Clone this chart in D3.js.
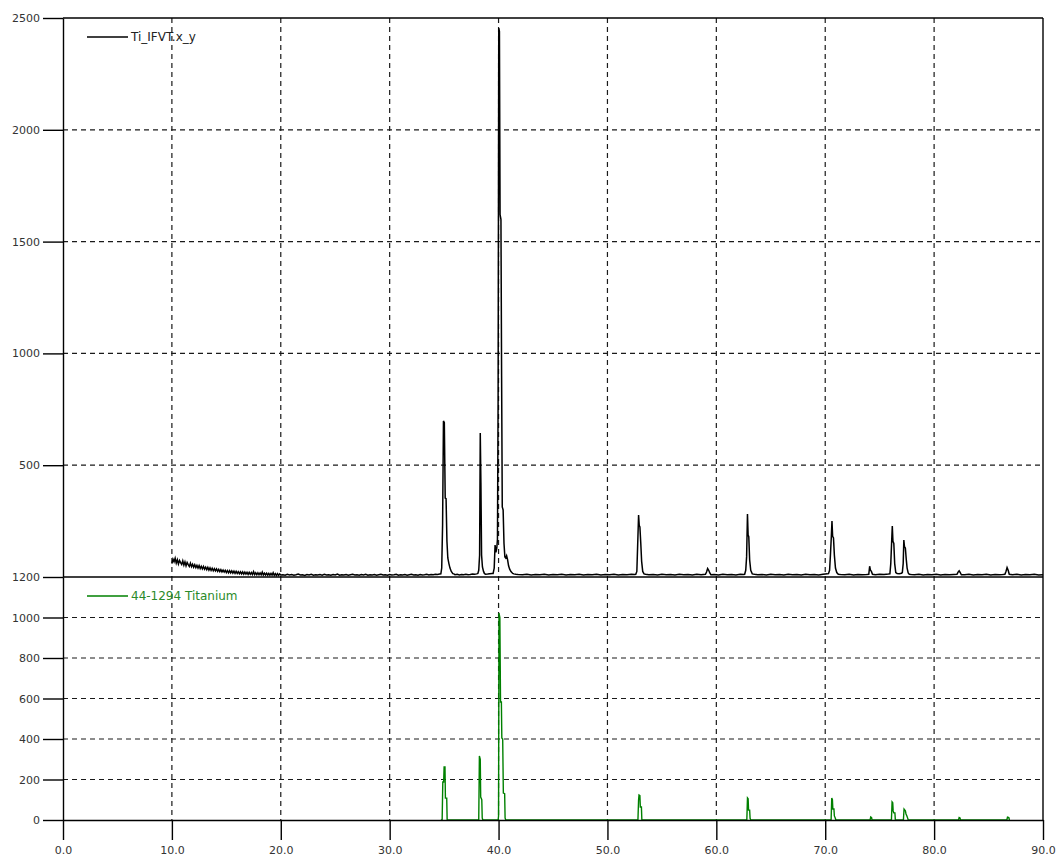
<!DOCTYPE html>
<html>
<head>
<meta charset="utf-8">
<script src="https://cdn.jsdelivr.net/npm/d3@7"></script>
<style>
  body { margin: 0; background: #fff; }
  svg { display: block; }
  text { font-family: "DejaVu Sans", sans-serif; }
</style>
</head>
<body>
<div id="chart"></div>
<script>
// measured pattern Ti_IFVT.x_y : [2theta, counts]
const obsBackground = [
  [10.0, 60], [10.1, 80], [10.2, 68], [10.3, 84], [10.4, 62], [10.5, 77], [10.6, 58], [10.7, 74], [10.8, 64], [10.9, 56],
  [11.0, 72], [11.1, 53], [11.2, 68], [11.3, 50], [11.4, 65], [11.5, 55], [11.6, 47], [11.7, 62], [11.8, 46], [11.9, 57],
  [12.0, 44], [12.1, 55], [12.2, 42], [12.3, 52], [12.4, 40], [12.5, 51], [12.6, 38], [12.7, 48], [12.8, 36], [12.9, 47],
  [13.0, 35], [13.1, 44], [13.2, 33], [13.3, 43], [13.4, 31], [13.5, 41], [13.6, 29], [13.7, 39], [13.8, 28], [13.9, 37],
  [14.0, 27], [14.1, 36], [14.2, 25], [14.3, 34], [14.4, 24], [14.5, 33], [14.6, 23], [14.7, 31], [14.8, 22], [14.9, 30],
  [15.0, 20], [15.1, 29], [15.2, 19], [15.3, 28], [15.4, 18], [15.5, 27], [15.6, 17], [15.7, 26], [15.8, 16], [15.9, 25],
  [16.0, 16], [16.1, 24], [16.2, 15], [16.3, 23], [16.4, 14], [16.5, 23], [16.6, 13], [16.7, 22], [16.8, 13], [16.9, 21],
  [17.0, 12], [17.1, 21], [17.2, 12], [17.3, 20], [17.4, 11], [17.5, 24], [17.6, 11], [17.7, 19], [17.8, 10], [17.9, 19],
  [18.0, 10], [18.1, 18], [18.2, 10], [18.3, 22], [18.4, 9], [18.5, 17], [18.6, 9], [18.7, 17], [18.8, 8], [18.9, 16],
  [19.0, 8], [19.1, 16], [19.2, 8], [19.3, 19], [19.4, 7], [19.5, 15], [19.6, 7], [19.7, 15], [19.8, 7], [19.9, 14],
  [20.0, 9], [20.2, 10], [20.4, 8], [20.6, 12], [20.8, 9], [21.0, 11], [21.2, 8], [21.4, 10], [21.6, 13], [21.8, 9],
  [22.0, 10], [22.2, 7], [22.4, 11], [22.6, 9], [22.8, 12], [23.0, 8], [23.2, 10], [23.4, 9], [23.6, 11], [23.8, 8],
  [24.0, 12], [24.2, 9], [24.4, 10], [24.6, 8], [24.8, 11], [25.0, 9], [25.2, 13], [25.4, 8], [25.6, 10], [25.8, 9],
  [26.0, 11], [26.2, 8], [26.4, 10], [26.6, 12], [26.8, 9], [27.0, 10], [27.2, 8], [27.4, 11], [27.6, 9], [27.8, 12],
  [28.0, 8], [28.2, 10], [28.4, 9], [28.6, 11], [28.8, 8], [29.0, 10], [29.2, 12], [29.4, 9], [29.6, 10], [29.8, 8],
  [30.0, 11], [30.2, 9], [30.4, 10], [30.6, 12], [30.8, 8], [31.0, 10], [31.2, 9], [31.4, 11], [31.6, 8], [31.8, 10],
  [32.0, 12], [32.2, 9], [32.4, 10], [32.6, 8], [32.8, 11], [33.0, 9], [33.2, 10], [33.4, 12], [33.6, 9], [33.8, 11],
  [34.0, 10], [34.2, 12], [34.4, 11], [34.6, 13],
  [35.9, 14], [36.0, 10], [36.2, 12], [36.4, 9], [36.6, 11], [36.8, 10], [37.0, 12], [37.2, 10], [37.4, 11],
  [37.6, 13], [37.8, 12], [38.0, 14],
  [38.8, 12], [39.0, 13], [39.2, 15], [39.4, 16],
  [41.4, 14], [41.6, 12], [41.8, 11], [42.2, 10], [42.6, 12], [43.0, 9], [43.4, 11], [43.8, 10], [44.2, 12], [44.6, 9],
  [45.0, 11], [45.4, 10], [45.8, 12], [46.2, 9], [46.6, 11], [47.0, 10], [47.4, 12], [47.8, 9], [48.2, 11], [48.6, 10],
  [49.0, 12], [49.4, 9], [49.8, 11], [50.2, 10], [50.6, 12], [51.0, 9], [51.4, 11], [51.8, 10], [52.2, 12], [52.5, 11],
  [53.5, 12], [53.8, 10], [54.2, 11], [54.6, 9], [55.0, 12], [55.4, 10], [55.8, 11], [56.2, 9], [56.6, 12], [57.0, 10],
  [57.4, 11], [57.8, 9], [58.2, 12], [58.6, 10],
  [59.8, 11], [60.2, 9], [60.6, 12], [61.0, 10], [61.4, 11], [61.8, 9], [62.2, 12], [62.5, 11],
  [63.5, 12], [63.8, 10], [64.2, 11], [64.6, 9], [65.0, 12], [65.4, 10], [65.8, 11], [66.2, 9], [66.6, 12], [67.0, 10],
  [67.4, 11], [67.8, 9], [68.2, 12], [68.6, 10], [69.0, 11], [69.4, 9], [69.8, 12], [70.2, 14],
  [71.4, 11], [71.8, 10], [72.2, 12], [72.6, 9], [73.0, 11], [73.4, 10], [73.8, 11],
  [74.6, 10], [75.0, 12], [75.4, 11], [75.8, 13],
  [76.6, 16], [76.8, 15], [77.0, 17],
  [77.9, 11], [78.2, 10], [78.6, 12], [79.0, 9], [79.4, 11], [79.8, 10], [80.2, 12], [80.6, 9], [81.0, 11], [81.4, 10],
  [81.8, 11], [82.8, 10], [83.2, 12], [83.6, 9], [84.0, 11], [84.4, 10], [84.8, 12], [85.2, 9], [85.6, 11], [86.0, 10],
  [86.3, 11], [87.2, 10], [87.6, 12], [88.0, 9], [88.4, 11], [88.8, 10], [89.2, 12], [89.6, 9], [90.0, 10]
];

const obsPeaks = [
  // 35.0
  [34.70, 14], [34.78, 40], [34.86, 232], [34.94, 698], [35.02, 690], [35.10, 353], [35.18, 350],
  [35.26, 160], [35.34, 85], [35.44, 60], [35.54, 40], [35.66, 25], [35.80, 15],
  // 38.4
  [38.10, 16], [38.18, 30], [38.26, 98], [38.32, 644], [38.38, 420], [38.44, 98], [38.52, 45], [38.62, 25], [38.70, 16],
  // 40.1 main peak
  [39.50, 16], [39.60, 40], [39.68, 143], [39.76, 110], [39.84, 130], [39.90, 170], [39.96, 800], [40.02, 2455],
  [40.08, 2440], [40.14, 1620], [40.22, 1600], [40.28, 900], [40.34, 313], [40.42, 300], [40.50, 150], [40.58, 90],
  [40.66, 85], [40.74, 95], [40.82, 80], [40.92, 50], [41.02, 35], [41.14, 24], [41.30, 16],
  // 53.0
  [52.60, 12], [52.70, 25], [52.78, 150], [52.86, 277], [52.92, 230], [52.98, 224], [53.06, 152], [53.14, 70], [53.24, 25], [53.36, 14],
  // 59.2
  [59.0, 12], [59.1, 22], [59.2, 38], [59.3, 30], [59.4, 18], [59.5, 10],
  // 62.9
  [62.60, 12], [62.70, 30], [62.78, 90], [62.86, 282], [62.92, 188], [62.98, 180], [63.06, 76], [63.16, 30], [63.30, 14],
  // 70.6
  [70.30, 15], [70.40, 30], [70.48, 100], [70.56, 180], [70.62, 250], [70.68, 182], [70.76, 175], [70.84, 98], [70.94, 40], [71.06, 20], [71.20, 12],
  // 74.1
  [74.00, 12], [74.08, 48], [74.16, 30], [74.24, 25], [74.34, 12],
  // 76.2
  [75.94, 14], [76.02, 60], [76.10, 157], [76.16, 228], [76.22, 160], [76.30, 150], [76.38, 60], [76.48, 20],
  // 77.3
  [77.08, 20], [77.16, 60], [77.22, 165], [77.28, 135], [77.36, 130], [77.44, 80], [77.52, 40], [77.62, 18], [77.72, 12],
  // 82.3, 86.7
  [82.1, 12], [82.2, 22], [82.3, 28], [82.4, 20], [82.5, 10],
  [86.5, 12], [86.6, 25], [86.7, 42], [86.8, 30], [86.9, 12]
];

// reference pattern 44-1294 Titanium : [2theta, intensity]
const refPattern = [
  [34.70, 0], [34.82, 0], [34.88, 188], [34.96, 188], [35.00, 262], [35.08, 262], [35.12, 108], [35.24, 108], [35.28, 0],
  [38.18, 0], [38.24, 316], [38.32, 300], [38.36, 113], [38.46, 100], [38.50, 10], [38.56, 0],
  [39.96, 0], [40.00, 20], [40.04, 1022], [40.12, 1000], [40.18, 583], [40.26, 583], [40.30, 405], [40.38, 400],
  [40.44, 133], [40.56, 130], [40.60, 10], [40.66, 0],
  [52.80, 0], [52.86, 100], [52.90, 123], [52.98, 120], [53.02, 64], [53.12, 64], [53.16, 0],
  [62.80, 0], [62.86, 109], [62.92, 105], [62.96, 49], [63.06, 49], [63.10, 8], [63.16, 0],
  [70.54, 0], [70.60, 109], [70.66, 100], [70.70, 54], [70.80, 54], [70.84, 20], [70.92, 10], [70.98, 0],
  [74.12, 0], [74.18, 15], [74.26, 12], [74.30, 0],
  [76.08, 0], [76.14, 89], [76.20, 85], [76.24, 45], [76.30, 35], [76.40, 35], [76.44, 0],
  [77.18, 0], [77.24, 54], [77.30, 50], [77.36, 46], [77.42, 30], [77.50, 20], [77.58, 8], [77.62, 0],
  [82.24, 0], [82.30, 12], [82.38, 10], [82.42, 0],
  [86.68, 0], [86.74, 14], [86.86, 12], [86.92, 0]
];

const xTicks = [0, 10, 20, 30, 40, 50, 60, 70, 80, 90];
const topTicks = [500, 1000, 1500, 2000, 2500];
const bottomTicks = [0, 200, 400, 600, 800, 1000, 1200];

const observed = d3.sort(obsBackground.concat(obsPeaks), (d) => d[0]);

const W = 1059, H = 858;
const plotLeft = 63, plotRight = 1043, plotTop = 18, plotSplit = 577, plotBottom = 820;

const x = d3.scaleLinear().domain([0, 90]).range([plotLeft, plotRight]);
const yTop = d3.scaleLinear().domain([0, 2500]).range([plotSplit, plotTop]);
const yBot = d3.scaleLinear().domain([0, 1200]).range([plotBottom, plotSplit]);

const svg = d3.select("#chart").append("svg")
  .attr("width", W)
  .attr("height", H);

// dashed grid
const grid = svg.append("g")
  .attr("stroke", "#1a1a1a")
  .attr("stroke-width", 1.2)
  .attr("stroke-dasharray", "5,4");

grid.selectAll("line.vx")
  .data(xTicks.filter((d) => d > 0 && d < 90))
  .join("line")
  .attr("class", "vx")
  .attr("x1", (d) => x(d)).attr("x2", (d) => x(d))
  .attr("y1", plotTop).attr("y2", plotBottom);

grid.selectAll("line.ht")
  .data(topTicks.filter((d) => d < 2500))
  .join("line")
  .attr("class", "ht")
  .attr("x1", plotLeft).attr("x2", plotRight)
  .attr("y1", (d) => yTop(d)).attr("y2", (d) => yTop(d));

grid.selectAll("line.hb")
  .data(bottomTicks.filter((d) => d > 0 && d < 1200))
  .join("line")
  .attr("class", "hb")
  .attr("x1", plotLeft).attr("x2", plotRight)
  .attr("y1", (d) => yBot(d)).attr("y2", (d) => yBot(d));

// data lines
svg.append("path")
  .datum(refPattern)
  .attr("fill", "none")
  .attr("stroke", "#008000")
  .attr("stroke-width", 1.4)
  .attr("d", d3.line().x((d) => x(d[0])).y((d) => yBot(d[1])));

svg.append("path")
  .datum(observed)
  .attr("fill", "none")
  .attr("stroke", "#000")
  .attr("stroke-width", 1.5)
  .attr("d", d3.line().x((d) => x(d[0])).y((d) => yTop(d[1])));

// frame
const frame = svg.append("g").attr("stroke", "#000").attr("stroke-width", 1.4);
frame.append("line").attr("x1", plotLeft).attr("x2", plotRight).attr("y1", plotTop).attr("y2", plotTop);
frame.append("line").attr("x1", plotLeft).attr("x2", plotRight).attr("y1", plotSplit).attr("y2", plotSplit);
frame.append("line").attr("x1", plotRight).attr("x2", plotRight).attr("y1", plotTop).attr("y2", plotBottom);

// axes
function styleAxis(g) {
  g.selectAll("path, line").attr("stroke", "#000").attr("stroke-width", 1.4);
  g.selectAll("text")
    .attr("fill", "#333")
    .style("font-size", "11px")
    .style("font-family", "'DejaVu Sans', sans-serif");
}

svg.append("g")
  .attr("transform", `translate(${plotLeft},0)`)
  .call(d3.axisLeft(yTop).tickValues(topTicks).tickFormat(d3.format("d"))
    .tickSize(20).tickSizeOuter(0).tickPadding(3))
  .call(styleAxis);

svg.append("g")
  .attr("transform", `translate(${plotLeft},0)`)
  .call(d3.axisLeft(yBot).tickValues(bottomTicks).tickFormat(d3.format("d"))
    .tickSize(20).tickSizeOuter(0).tickPadding(3))
  .call(styleAxis);

svg.append("g")
  .attr("transform", `translate(0,${plotBottom})`)
  .call(d3.axisBottom(x).tickValues(xTicks).tickFormat(d3.format(".1f"))
    .tickSize(20).tickSizeOuter(0).tickPadding(6))
  .call(styleAxis);

// legends
const legends = [
  { label: "Ti_IFVT.x_y", color: "#000", text: "#222", y: 37 },
  { label: "44-1294 Titanium", color: "#008000", text: "#2a8a2a", y: 596 }
];

const lg = svg.selectAll("g.legend").data(legends).join("g").attr("class", "legend");
lg.append("line")
  .attr("x1", 87).attr("x2", 128)
  .attr("y1", (d) => d.y).attr("y2", (d) => d.y)
  .attr("stroke", (d) => d.color)
  .attr("stroke-width", 1.3);
lg.append("text")
  .attr("x", 131)
  .attr("y", (d) => d.y)
  .attr("dy", "0.35em")
  .attr("fill", (d) => d.text)
  .style("font-size", "12px")
  .text((d) => d.label);
</script>
</body>
</html>
